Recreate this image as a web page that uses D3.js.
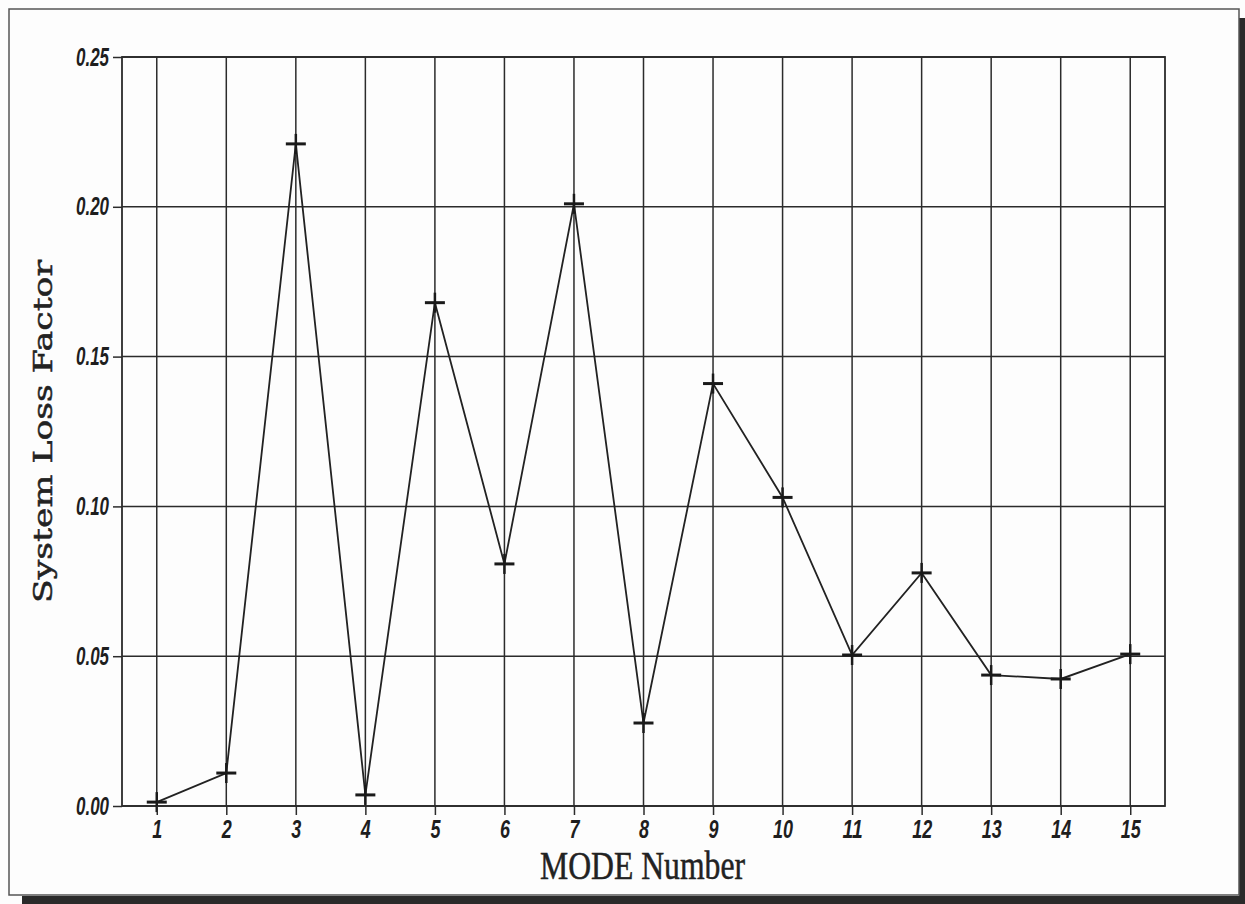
<!DOCTYPE html>
<html>
<head>
<meta charset="utf-8">
<script src="https://cdn.jsdelivr.net/npm/d3@7"></script>
<style>
  html, body { margin: 0; padding: 0; background: #fdfdfd; }
  svg { display: block; }
</style>
</head>
<body>
<div id="chart"></div>
<script>
// mode numbers and measured loss factors
const modes = [1, 2, 3, 4, 5, 6, 7, 8, 9, 10, 11, 12, 13, 14, 15];
const lossFactor = [0.0013, 0.011, 0.221, 0.0037, 0.168, 0.0808, 0.201, 0.0277, 0.141, 0.103, 0.0504, 0.0778, 0.0437, 0.0424, 0.0507];
const yTicks = [0.00, 0.05, 0.10, 0.15, 0.20, 0.25];

const width = 1245, height = 904;
const margin = { top: 57, right: 80, bottom: 98, left: 122 };

const svg = d3.select("#chart")
    .append("svg")
    .attr("width", width)
    .attr("height", height);

// page frame with the dark scan edge on the right and bottom
svg.append("rect")
    .attr("x", 1239).attr("y", 18)
    .attr("width", 6).attr("height", height - 18)
    .attr("fill", "#2a2a2a");
svg.append("rect")
    .attr("x", 22).attr("y", 896)
    .attr("width", width - 22).attr("height", 8)
    .attr("fill", "#2a2a2a");
svg.append("rect")
    .attr("x", 9).attr("y", 9)
    .attr("width", 1230).attr("height", 886)
    .attr("fill", "none")
    .attr("stroke", "#555")
    .attr("stroke-width", 1.5);

const x = d3.scaleLinear()
    .domain([0.5, 15.5])
    .range([margin.left, width - margin.right]);

const y = d3.scaleLinear()
    .domain([0, 0.25])
    .range([height - margin.bottom, margin.top]);

const plot = svg.append("g");

// grid
plot.selectAll(".vgrid")
    .data(modes)
    .join("line")
    .attr("class", "vgrid")
    .attr("x1", d => x(d)).attr("x2", d => x(d))
    .attr("y1", y(0.25)).attr("y2", y(0))
    .attr("stroke", "#2b2b2b")
    .attr("stroke-width", 1.5);

plot.selectAll(".hgrid")
    .data(yTicks)
    .join("line")
    .attr("class", "hgrid")
    .attr("x1", x(0.5)).attr("x2", x(15.5))
    .attr("y1", d => y(d)).attr("y2", d => y(d))
    .attr("stroke", "#2b2b2b")
    .attr("stroke-width", 1.5);

plot.append("rect")
    .attr("x", x(0.5)).attr("y", y(0.25))
    .attr("width", x(15.5) - x(0.5))
    .attr("height", y(0) - y(0.25))
    .attr("fill", "none")
    .attr("stroke", "#2b2b2b")
    .attr("stroke-width", 1.8);

// axes
const yAxis = svg.append("g")
    .attr("transform", `translate(${x(0.5)},0)`)
    .call(d3.axisLeft(y).tickValues(yTicks).tickFormat(d3.format(".2f")).tickSize(9).tickPadding(4));

const xAxis = svg.append("g")
    .attr("transform", `translate(0,${y(0)})`)
    .call(d3.axisBottom(x).tickValues(modes).tickFormat(d3.format("d")).tickSize(9).tickPadding(5));

// narrow heavy italic digits, squeezed to the width seen in the print
const labelWidth = s => s.replace(/\./g, "").length * 10 + (s.includes(".") ? 3 : 0);

[xAxis, yAxis].forEach(g => {
    g.select(".domain").remove();
    g.selectAll(".tick line").attr("stroke", "#2b2b2b").attr("stroke-width", 1.5);
    g.selectAll(".tick text")
        .attr("fill", "#1e1e1e")
        .attr("textLength", function () { return labelWidth(this.textContent); })
        .attr("lengthAdjust", "spacingAndGlyphs")
        .style("font-family", "'Liberation Sans', Arial, sans-serif")
        .style("font-weight", "bold")
        .style("font-style", "italic")
        .style("font-size", "25px");
});

// data line and cross markers
const line = d3.line()
    .x((d, i) => x(modes[i]))
    .y(d => y(d));

plot.append("path")
    .datum(lossFactor)
    .attr("d", line)
    .attr("fill", "none")
    .attr("stroke", "#222")
    .attr("stroke-width", 1.8);

const markers = plot.selectAll(".marker")
    .data(lossFactor)
    .join("g")
    .attr("class", "marker")
    .attr("transform", (d, i) => `translate(${x(modes[i])},${y(d)})`);

markers.append("line")
    .attr("x1", -10).attr("x2", 10)
    .attr("stroke", "#1a1a1a").attr("stroke-width", 3);
markers.append("line")
    .attr("y1", -10).attr("y2", 10)
    .attr("stroke", "#1a1a1a").attr("stroke-width", 2.5);

// axis titles
svg.append("text")
    .attr("transform", `translate(52,${(260 + 603) / 2}) rotate(-90)`)
    .attr("text-anchor", "middle")
    .attr("textLength", 343)
    .attr("lengthAdjust", "spacingAndGlyphs")
    .style("font-family", "'DejaVu Serif', serif")
    .style("font-size", "26px")
    .attr("fill", "#222")
    .attr("stroke", "#222")
    .attr("stroke-width", 0.5)
    .text("System Loss Factor");

svg.append("text")
    .attr("x", (540 + 745) / 2)
    .attr("y", 879)
    .attr("text-anchor", "middle")
    .attr("textLength", 205)
    .attr("lengthAdjust", "spacingAndGlyphs")
    .style("font-family", "'Liberation Serif', 'Times New Roman', serif")
    .style("font-size", "40px")
    .attr("fill", "#222")
    .attr("stroke", "#222")
    .attr("stroke-width", 0.5)
    .text("MODE Number");
</script>
</body>
</html>
